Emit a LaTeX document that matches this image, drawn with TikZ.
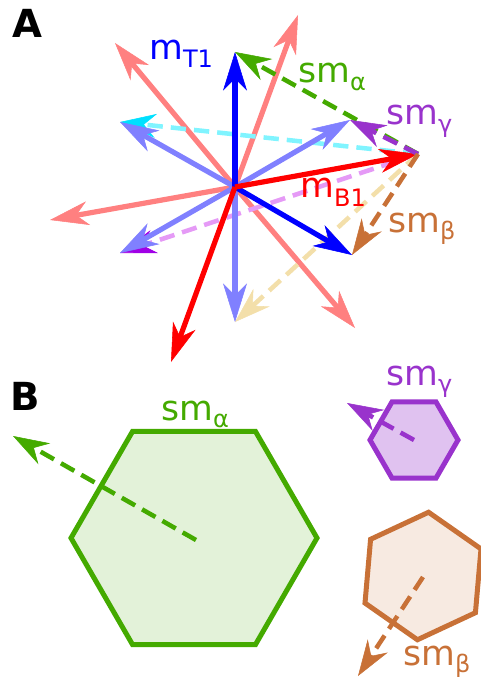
\documentclass[tikz,border=0pt]{standalone}
\usepackage{fontspec}
\setmainfont{DejaVu Sans}
\usetikzlibrary{arrows.meta}
\definecolor{cblue}{HTML}{0000FF}
\definecolor{cred}{HTML}{FF0000}
\definecolor{csalmon}{HTML}{FF8080}
\definecolor{clblue}{HTML}{8080FF}
\definecolor{cgreen}{HTML}{44AA00}
\definecolor{cpurple}{HTML}{9933CC}
\definecolor{cbrown}{HTML}{C87137}
\definecolor{ccyanl}{HTML}{80F4FF}
\definecolor{ccyan}{HTML}{00E0FF}
\definecolor{cviol}{HTML}{E59AF6}
\definecolor{cviolh}{HTML}{A000E6}
\definecolor{cwheat}{HTML}{F3DFAA}
\definecolor{fgreen}{HTML}{E3F2D9}
\definecolor{fpurple}{HTML}{E0C2F0}
\definecolor{fbrown}{HTML}{F7EAE1}
\newcommand{\labsub}[3]{#1\raisebox{-#3}{\fontsize{18}{20}\selectfont #2}}
\tikzset{
  vec/.style={line width=3.9pt, -{Stealth[length=29pt,width=18pt,inset=9pt,line width=0.4pt]}},
  dvec/.style={line width=3.4pt, dash pattern=on 11.5pt off 6pt, -{Stealth[length=27pt,width=18pt,inset=9pt,line width=0.4pt]}},
  lbl/.style={inner sep=0pt, anchor=base west, font=\fontsize{26}{30}\selectfont},
  panel/.style={inner sep=0pt, anchor=base west, font=\fontsize{29}{32}\selectfont\bfseries},
  hexline/.style={line width=3.75pt, line join=miter}
}
\begin{document}
\begin{tikzpicture}[x=0.75pt, y=-0.75pt]
\useasboundingbox (0,0) rectangle (480,677);
% ---------- panel A ----------
\coordinate (O) at (235,187);
\coordinate (tT) at (235,52);
\coordinate (tBd) at (352,255);
\coordinate (tR) at (418,154);
\coordinate (tRd) at (171,362);
\coordinate (sUR) at (298,15);
\coordinate (sUL) at (115,43);
\coordinate (sL) at (50,220);
\coordinate (sDR) at (355,328);
\coordinate (bUL) at (120,122);
\coordinate (bUR) at (350,120);
\coordinate (bDL) at (120,253);
\coordinate (bD) at (235,322);
% salmon arrows
\draw[vec, csalmon] (O) -- (sUR);
\draw[vec, csalmon] (O) -- (sUL);
\draw[vec, csalmon] (O) -- (sL);
\draw[vec, csalmon] (O) -- (sDR);
% light dashed arrows
\draw[dvec, ccyanl, -{Stealth[length=27pt,width=18pt,inset=9pt,line width=0.4pt,color=ccyan]}] (tR) -- (bUL);
\draw[dvec, cviol, -{Stealth[length=27pt,width=18pt,inset=9pt,line width=0.4pt,color=cviolh]}] (tR) -- (bDL);
\draw[dvec, cwheat] (tR) -- (bD);
% light blue arrows
\draw[vec, clblue] (O) -- (bUL);
\draw[vec, clblue] (O) -- (bUR);
\draw[vec, clblue] (O) -- (bDL);
\draw[vec, clblue] (O) -- (bD);
% dark blue and red
\draw[vec, cblue] (O) -- (tT);
\draw[vec, cblue] (O) -- (tBd);
\draw[vec, cred] (O) -- (tR);
\draw[vec, cred] (O) -- (tRd);
% coloured dashed arrows
\draw[dvec, cgreen] (tR) -- (tT);
\draw[dvec, cpurple] (tR) -- (bUR);
\draw[dvec, cbrown] (tR) -- (tBd);
% labels
\node[panel] (pA) at (12,38) {A};
\node[lbl, text=cblue] (lT1) at (149,60) {\labsub{m}{T1}{6pt}};
\node[lbl, text=cgreen] (lsa) at (298,83) {\labsub{sm}{α}{5.5pt}};
\node[lbl, text=cpurple] (lsg) at (386,125) {\labsub{sm}{γ}{5.5pt}};
\node[lbl, text=cred] (lB1) at (300,198) {\labsub{m}{B1}{6pt}};
\node[lbl, text=cbrown] (lsb) at (388,232) {\labsub{sm}{β}{5.5pt}};
% ---------- panel B ----------
\node[panel] (pB) at (10,410) {B};
\coordinate (gc) at (196,540);
\coordinate (gt) at (13,436);
\coordinate (pc) at (414,440);
\coordinate (pt) at (347,403);
\coordinate (bc) at (423,577);
\coordinate (bt) at (358,676);
\draw[hexline, cgreen, fill=fgreen, shift={(194,538)}] (0:123) -- (60:123) -- (120:123) -- (180:123) -- (240:123) -- (300:123) -- cycle;
\draw[hexline, cpurple, fill=fpurple, shift={(414,440)}] (0:44) -- (60:44) -- (120:44) -- (180:44) -- (240:44) -- (300:44) -- cycle;
\draw[hexline, cbrown, fill=fbrown, shift={(423,576)}] (-85:64) -- (-25:64) -- (35:64) -- (95:64) -- (155:64) -- (215:64) -- cycle;
\draw[dvec, cgreen] (gc) -- (gt);
\draw[dvec, cpurple] (pc) -- (pt);
\draw[dvec, cbrown] (bc) -- (bt);
\node[lbl, text=cgreen] (lsa2) at (161,420) {\labsub{sm}{α}{5.5pt}};
\node[lbl, text=cpurple] (lsg2) at (386,385) {\labsub{sm}{γ}{5.5pt}};
\node[lbl, text=cbrown] (lsb2) at (403,665) {\labsub{sm}{β}{5.5pt}};
\end{tikzpicture}
\end{document}
